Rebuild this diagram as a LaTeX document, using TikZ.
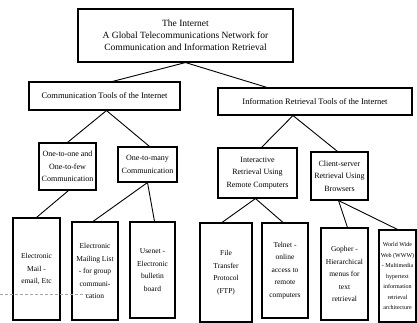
\documentclass[tikz,border=0pt]{standalone}
\usepackage{fontspec}
\setmainfont{Liberation Serif}
\usetikzlibrary{shapes, calc}

\begin{document}
\begin{tikzpicture}[x=1pt, y=-1pt]
			\tikzstyle{box}=[
			draw,
			rectangle,
			line width=1.1pt,
			align=center,
			inner sep=1pt
			]
			\tikzstyle{topnode}=[box, font=\fontsize{9.5}{12}\selectfont]
			\tikzstyle{toolnode}=[box, font=\fontsize{8.5}{10}\selectfont]
			\tikzstyle{modenode}=[box, font=\fontsize{8}{12.5}\selectfont]
			\tikzstyle{leafnode}=[box, font=\fontsize{7.5}{12.5}\selectfont]
			\tikzstyle{link}=[line width=0.9pt]
			\useasboundingbox (0,0) rectangle (417,323);
			% root
			\node[topnode, minimum width=215pt, minimum height=53pt] (NET) at (185.5,35.5)
				{The Internet\\A Global Telecommunications Network for\\Communication and Information Retrieval};
			% tools
			\node[toolnode, minimum width=151pt, minimum height=28pt] (COMM) at (104.5,96) {Communication Tools of the Internet};
			\node[toolnode, minimum width=194pt, minimum height=27pt] (INFO) at (315,101.5) {Information Retrieval Tools of the Internet};
			% kinds of use
			\node[modenode, minimum width=57pt, minimum height=47pt] (FEW) at (67.5,166.5) {One-to-one and\\One-to-few\\Communication};
			\node[modenode, minimum width=59pt, minimum height=35pt] (MANY) at (147.5,164.5) {One-to-many\\Communication};
			\node[modenode, minimum width=79pt, minimum height=50pt] (REMOTE) at (257.5,173) {Interactive\\Retrieval Using\\Remote Computers};
			\node[modenode, minimum width=57pt, minimum height=48pt] (BROWSE) at (339.5,176) {Client-server\\Retrieval Using\\Browsers};
			% services
			\node[leafnode, minimum width=47pt, minimum height=102pt] (MAIL) at (36.5,269) {Electronic\\Mail -\\email, Etc};
			\node[leafnode, minimum width=46pt, minimum height=98pt] (LIST) at (95,271) {Electronic\\Mailing List\\- for group\\communi-\\cation};
			\node[leafnode, minimum width=45pt, minimum height=96pt] (NEWS) at (152.5,270) {Usenet -\\Electronic\\bulletin\\board};
			\node[leafnode, minimum width=52pt, minimum height=99pt] (FTP) at (226,272.5) {File\\Transfer\\Protocol\\(FTP)};
			\node[leafnode, minimum width=46pt, minimum height=95pt] (TELNET) at (285,270.5) {Telnet -\\online\\access to\\remote\\computers};
			\node[leafnode, minimum width=47pt, minimum height=92pt] (GOPHER) at (344.5,274) {Gopher -\\Hierarchical\\menus for\\text\\retrieval};
			\node[leafnode, font=\fontsize{6}{10.5}\selectfont, minimum width=37pt, minimum height=92pt] (WWW) at (397.5,276) {World Wide\\Web (WWW)\\- Multimedia\\hypertext\\information\\retrieval\\architecture};
			%
			\path [link] (NET.south) edge ([xshift=8pt]COMM.north);
			\path [link] (NET.south) edge ([xshift=-48pt]INFO.north);
			\path [link] ([xshift=2pt]COMM.south) edge (FEW.north);
			\path [link] ([xshift=2pt]COMM.south) edge ([xshift=2pt]MANY.north);
			\path [link] ([xshift=-22pt]INFO.south) edge ([xshift=4pt]REMOTE.north);
			\path [link] ([xshift=-22pt]INFO.south) edge ([xshift=-2pt]BROWSE.north);
			\path [link] ([xshift=1pt]FEW.south) edge (MAIL.north);
			\path [link] (MANY.south) edge ([xshift=-2pt]LIST.north);
			\path [link] (MANY.south) edge ([xshift=2pt]NEWS.north);
			\path [link] ([xshift=-2pt]REMOTE.south) edge ([xshift=-4pt]FTP.north);
			\path [link] ([xshift=-2pt]REMOTE.south) edge ([xshift=-2pt]TELNET.north);
			\path [link] ([xshift=-1pt]BROWSE.south) edge ([xshift=3pt]GOPHER.north);
			\path [link] ([xshift=-1pt]BROWSE.south) edge (WWW.north);
			% scan rule
			\draw [gray!70, densely dashed, thin] (0,294) -- (92,294);
		\end{tikzpicture}
\end{document}
